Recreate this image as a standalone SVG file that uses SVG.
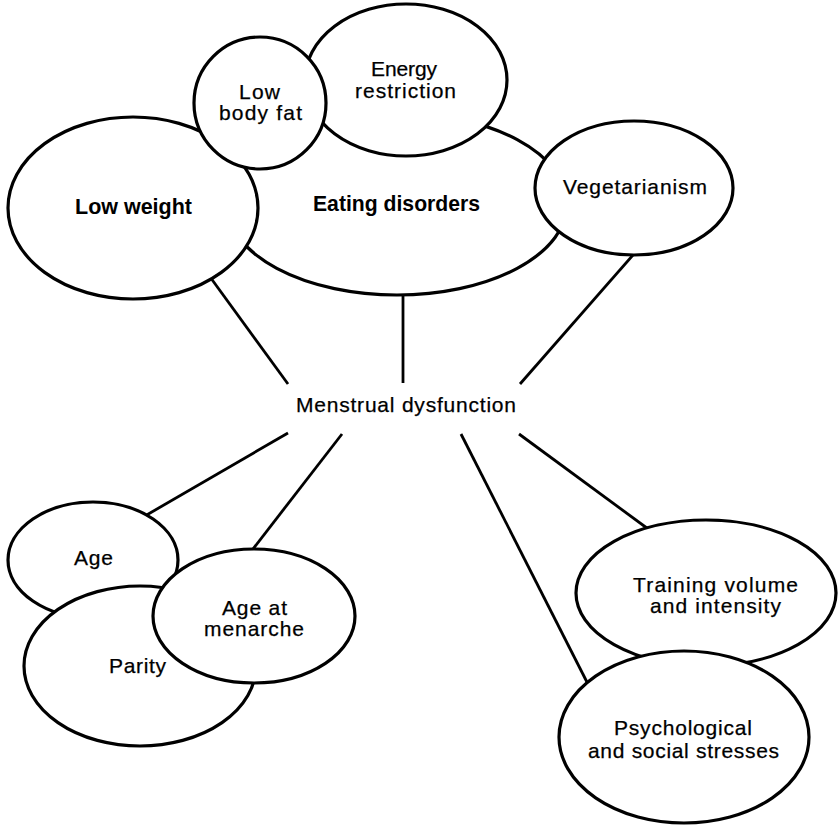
<svg xmlns="http://www.w3.org/2000/svg" width="838" height="832" viewBox="0 0 838 832">
<style>
.n{fill:#fff;stroke:#000;stroke-width:3.2}
.c{stroke:#000;stroke-width:2.8;fill:none;stroke-linecap:butt}
.t{font-family:"Liberation Sans",Arial,sans-serif;font-size:21px;fill:#000;stroke:#000;stroke-width:0.25}
.b{font-family:"Liberation Sans",Arial,sans-serif;font-size:21.5px;font-weight:bold;fill:#000}
</style>
<rect width="838" height="832" fill="#fff"/>
<g id="connectors">
<line class="c" x1="205" y1="270" x2="288" y2="384"/>
<line class="c" x1="403" y1="285" x2="403" y2="383"/>
<line class="c" x1="640" y1="247" x2="520" y2="384"/>
<line class="c" x1="288" y1="433" x2="138" y2="520"/>
<line class="c" x1="342" y1="434" x2="246" y2="558"/>
<line class="c" x1="461" y1="434" x2="592" y2="692"/>
<line class="c" x1="519" y1="434" x2="655" y2="534"/>
</g>
<g id="eating-disorders">
<ellipse class="n" cx="397" cy="204" rx="170" ry="91"/>
<text class="b" x="313" y="211" textLength="167" lengthAdjust="spacingAndGlyphs">Eating disorders</text>
</g>
<g id="low-weight">
<ellipse class="n" cx="133" cy="208" rx="125" ry="91"/>
<text class="b" x="75" y="214" textLength="117" lengthAdjust="spacingAndGlyphs">Low weight</text>
</g>
<g id="energy-restriction">
<ellipse class="n" cx="406" cy="80" rx="101" ry="76"/>
<text class="t" x="371" y="76" textLength="66" lengthAdjust="spacing">Energy</text>
<text class="t" x="355" y="98" textLength="101" lengthAdjust="spacing">restriction</text>
</g>
<g id="low-body-fat">
<circle class="n" cx="260" cy="103" r="66"/>
<text class="t" x="239" y="99" textLength="41" lengthAdjust="spacing">Low</text>
<text class="t" x="219" y="120" textLength="83" lengthAdjust="spacing">body fat</text>
</g>
<g id="vegetarianism">
<ellipse class="n" cx="634" cy="188" rx="99" ry="67"/>
<text class="t" x="563" y="194" textLength="144" lengthAdjust="spacing">Vegetarianism</text>
</g>
<g id="menstrual-dysfunction">
<text class="t" x="296" y="412" textLength="220" lengthAdjust="spacing">Menstrual dysfunction</text>
</g>
<g id="age">
<ellipse class="n" cx="93" cy="560" rx="85" ry="58"/>
<text class="t" x="74" y="565" textLength="39" lengthAdjust="spacing">Age</text>
</g>
<g id="parity">
<ellipse class="n" cx="140" cy="666" rx="116" ry="80"/>
<text class="t" x="109" y="673" textLength="57" lengthAdjust="spacing">Parity</text>
</g>
<g id="age-at-menarche">
<ellipse class="n" cx="254" cy="616" rx="101" ry="67"/>
<text class="t" x="222" y="615" textLength="65" lengthAdjust="spacing">Age at</text>
<text class="t" x="204" y="636" textLength="100" lengthAdjust="spacing">menarche</text>
</g>
<g id="training">
<ellipse class="n" cx="706" cy="593" rx="130" ry="73"/>
<text class="t" x="633" y="592" textLength="165" lengthAdjust="spacing">Training volume</text>
<text class="t" x="650" y="613" textLength="131" lengthAdjust="spacing">and intensity</text>
</g>
<g id="psychological">
<ellipse class="n" cx="684" cy="737" rx="125" ry="86"/>
<text class="t" x="614" y="735" textLength="138" lengthAdjust="spacing">Psychological</text>
<text class="t" x="588" y="758" textLength="191" lengthAdjust="spacing">and social stresses</text>
</g>
</svg>
